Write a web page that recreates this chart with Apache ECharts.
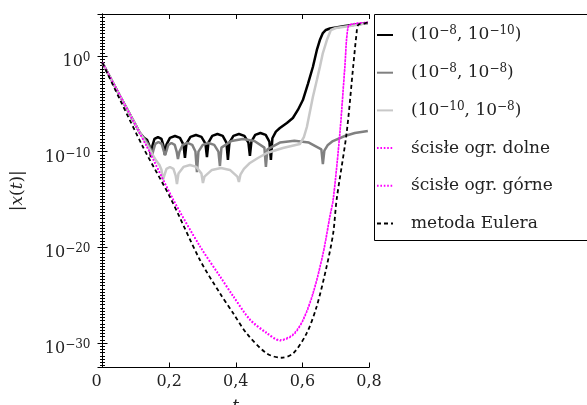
<!DOCTYPE html>
<html><head><meta charset="utf-8">
<script src="https://cdn.jsdelivr.net/npm/echarts@6/dist/echarts.min.js"></script>
<style>html,body{margin:0;padding:0;background:#fff}#c{width:587px;height:405px}</style>
</head><body><div id="c"></div>
<script>
// Data: [t, log10 |x(t)|]
const tol_8_10 = [[0,-0.73],[0.0525,-4.18],[0.1125,-8.05],[0.1245,-8.55],[0.1335,-8.75],[0.1410,-9.4],[0.1455,-10.56],
 [0.1500,-9.37],[0.1560,-8.67],[0.1665,-8.47],[0.1770,-8.67],[0.1830,-9.37],[0.1875,-10.35],
 [0.1920,-9.26],[0.2025,-8.56],[0.2175,-8.36],[0.2325,-8.56],[0.2430,-9.26],[0.2475,-10.66],
 [0.2520,-9.16],[0.2640,-8.46],[0.2805,-8.26],[0.2970,-8.46],[0.3090,-9.16],[0.3135,-10.56],
 [0.3180,-9.05],[0.3294,-8.35],[0.3450,-8.15],[0.3609,-8.35],[0.3720,-9.05],[0.3765,-10.87],
 [0.3810,-9.05],[0.3930,-8.35],[0.4095,-8.15],[0.4260,-8.35],[0.4380,-9.05],[0.4425,-10.45],
 [0.4470,-8.95],[0.4584,-8.25],[0.4740,-8.05],[0.4899,-8.25],[0.5010,-8.95],[0.5055,-10.87],
 [0.5100,-8.6],[0.5205,-7.9],[0.5325,-7.53],[0.5535,-7.00],[0.5715,-6.48],[0.5865,-5.64],[0.6015,-4.60],[0.6165,-2.93],[0.6315,-1.15],[0.6435,0.63],[0.6525,1.67],[0.6615,2.40],[0.6705,2.72],[0.6825,2.87],[0.7275,3.14],[0.7965,3.45]];
const tol_8_8 = [[0,-0.73],[0.0525,-4.18],[0.1125,-8.05],[0.1245,-8.6],[0.1365,-9.2],[0.1440,-9.7],[0.1485,-10.45],
 [0.1524,-9.89],[0.1584,-9.19],[0.1680,-8.99],[0.1779,-9.19],[0.1836,-9.89],[0.1875,-10.35],
 [0.1914,-9.99],[0.1974,-9.29],[0.2070,-9.09],[0.2169,-9.29],[0.2226,-9.99],[0.2265,-10.77],
 [0.2310,-9.99],[0.2409,-9.29],[0.2550,-9.09],[0.2694,-9.29],[0.2790,-9.99],[0.2835,-12.13],
 [0.2880,-9.99],[0.3009,-9.29],[0.3180,-9.09],[0.3354,-9.29],[0.3480,-9.99],[0.3525,-11.50],
 [0.3570,-9.58],[0.3870,-8.88],[0.4215,-8.68],[0.4560,-8.88],[0.4860,-9.58],[0.4905,-11.60],
 [0.4950,-9.75],[0.5325,-9.05],[0.5760,-8.85],[0.6195,-9.05],[0.6570,-9.75],[0.6615,-11.29],
 [0.6660,-9.9],[0.6765,-9.3],[0.6915,-8.89],[0.7275,-8.36],[0.7575,-8.05],[0.7965,-7.84]];
const tol_10_8 = [[0,-0.73],[0.0525,-4.18],[0.1125,-8.05],[0.1305,-9.1],[0.1485,-10.2],[0.1605,-10.9],[0.1710,-11.4],[0.1770,-11.9],[0.1815,-12.96],
 [0.1854,-12.5],[0.1920,-11.8],[0.2025,-11.6],[0.2130,-11.8],[0.2196,-12.5],[0.2235,-13.38],
 [0.2280,-12.29],[0.2430,-11.59],[0.2625,-11.39],[0.2820,-11.59],[0.2970,-12.29],[0.3015,-13.28],
 [0.3060,-12.61],[0.3285,-11.91],[0.3555,-11.71],[0.3825,-11.91],[0.4050,-12.61],[0.4095,-13.17],
 [0.4140,-12.4],[0.4245,-11.8],[0.4425,-11.18],[0.4665,-10.66],[0.4935,-10.14],[0.5415,-9.62],[0.5925,-9.20],[0.6045,-8.47],[0.6135,-7.42],[0.6225,-5.85],[0.6315,-4.29],[0.6435,-2.51],[0.6525,-1.15],[0.6615,0.31],[0.6735,1.67],[0.6855,2.72],[0.7005,2.93],[0.7425,3.14],[0.7965,3.45]];
const lowerBound = [[0,-0.73],[0.1326,-9.48],[0.2124,-15.05],[0.2925,-19.93],[0.3525,-23.07],[0.3924,-25.16],[0.4425,-27.60],[0.4926,-28.99],[0.5325,-29.76],[0.5724,-29.16],[0.6025,-27.60],[0.6325,-24.80],[0.6625,-20.62],[0.6826,-16.80],[0.6925,-15.05],[0.7126,-8.08],[0.7276,-1.12],[0.7375,3.06],[0.7525,3.34],[0.7966,3.50]];
const upperBound = [[0,-0.70],[0.1326,-9.42],[0.2124,-14.98],[0.2925,-19.85],[0.3525,-22.98],[0.3924,-25.06],[0.4425,-27.50],[0.4926,-28.90],[0.5325,-29.68],[0.5724,-29.08],[0.6025,-27.52],[0.6325,-24.72],[0.6625,-20.55],[0.6826,-16.74],[0.6925,-14.99],[0.7126,-8.02],[0.7276,-1.07],[0.7375,3.10],[0.7525,3.37],[0.7966,3.52]];
const euler = [[0,-0.73],[0.1215,-9.51],[0.2025,-14.74],[0.2925,-21.32],[0.3525,-24.80],[0.3924,-26.89],[0.4326,-28.99],[0.4926,-31.08],[0.5376,-31.54],[0.5724,-31.08],[0.6127,-28.99],[0.6427,-26.21],[0.6727,-22.02],[0.6925,-18.53],[0.7027,-15.05],[0.7327,-8.08],[0.7525,-1.12],[0.7627,2.37],[0.7675,3.24],[0.7876,3.42],[0.7966,3.50]];

const seriesNames = ['(1e-8, 1e-10)','(1e-8, 1e-8)','(1e-10, 1e-8)','ścisłe ogr. dolne','ścisłe ogr. górne','metoda Eulera'];
const legendLabels = ['(10{s|−8}, 10{s|−10})','(10{s|−8}, 10{s|−8})','(10{s|−10}, 10{s|−8})','ścisłe ogr. dolne','ścisłe ogr. górne','metoda Eulera'];
const xTickValues = [0, 0.2, 0.4, 0.6, 0.8];
const xRange = [0, 0.8];
const yRangeLog = [-32.56, 4.39];

const FONT = 'DejaVu Serif';
const TXT = '#222';
const chart = echarts.init(document.getElementById('c'), null, {renderer: 'canvas'});

function yLabel(v) {
  if (Math.abs(v - Math.round(v / 10) * 10) > 1e-6) return '';
  const e = Math.round(v);
  return '10{s|' + (e < 0 ? '−' + (-e) : String(e)) + '}';
}
function xLabel(v) {
  if (xTickValues.indexOf(Math.round(v * 10) / 10) < 0) return '';
  if (v === 0) return '{z|0}';
  return v.toFixed(1).replace('.', ',');
}
const supStyle = {fontFamily: FONT, fontSize: 12, color: TXT, verticalAlign: 'top', lineHeight: 12};

const commonY = {
  type: 'value', min: yRangeLog[0], max: yRangeLog[1],
  splitLine: {show: false},
  axisLine: {show: true, lineStyle: {color: '#000', width: 1}},
  axisTick: {show: true, inside: true, length: 5, lineStyle: {color: '#000'}},
  minorTick: {show: true, splitNumber: 30, length: 2.5, lineStyle: {color: '#000', width: 1}}
};
const commonX = {
  type: 'value', min: xRange[0], max: xRange[1], interval: 0.2,
  splitLine: {show: false},
  axisLine: {show: true, onZero: false, lineStyle: {color: '#000', width: 1}},
  axisTick: {show: true, inside: true, length: 5, lineStyle: {color: '#000'}}
};

const lineSeries = (name, data, color, width, type, z) => ({
  name, type: 'line', data, symbol: 'none', showSymbol: false, z,
  lineStyle: {color, width, type}, itemStyle: {color},
  emphasis: {disabled: true}, animation: false, clip: true
});

chart.setOption({
  animation: false,
  backgroundColor: '#fff',
  grid: {left: 102.5, right: 218, top: 14, bottom: 37.5, containLabel: false, outerBoundsMode: 'none'},
  xAxis: [
    Object.assign({}, commonX, {
      position: 'bottom',
      axisLabel: {show: true, formatter: xLabel, margin: 6, fontFamily: FONT, fontSize: 16, color: TXT,
        rich: {z: {fontFamily: FONT, fontSize: 16, color: TXT, padding: [0, 12, 0, 0]}}},
      name: 't', nameLocation: 'middle', nameGap: 31,
      nameTextStyle: {fontFamily: FONT, fontSize: 17, fontStyle: 'italic', color: TXT}
    }),
    Object.assign({}, commonX, {position: 'top', axisLabel: {show: false}})
  ],
  yAxis: [
    Object.assign({}, commonY, {
      position: 'left',
      axisLabel: {show: true, formatter: yLabel, margin: 12, fontFamily: FONT, fontSize: 16, color: TXT,
        lineHeight: 20, padding: [12, 0, 0, 0], rich: {s: supStyle}},
      name: '|{i|x}({i|t})|', nameLocation: 'middle', nameGap: 76,
      nameTextStyle: {fontFamily: FONT, fontSize: 17, color: TXT,
        rich: {i: {fontFamily: FONT, fontSize: 17, fontStyle: 'italic', color: TXT}}}
    }),
    Object.assign({}, commonY, {position: 'right', axisLabel: {show: false}})
  ],
  legend: {
    orient: 'vertical', left: 376, top: 25, padding: 0,
    itemWidth: 16, itemHeight: 10, itemGap: 17.7,
    selectedMode: false,
    itemStyle: {opacity: 0},
    data: seriesNames,
    formatter: function (name) { return legendLabels[seriesNames.indexOf(name)]; },
    textStyle: {fontFamily: FONT, fontSize: 17, color: TXT, height: 20, lineHeight: 20,
      padding: [0, 0, 0, 13], rich: {s: supStyle}}
  },
  graphic: [{
    type: 'rect', z: 100, silent: true,
    shape: {x: 374.5, y: 14.5, width: 260, height: 226},
    style: {fill: null, stroke: '#000', lineWidth: 1}
  }],
  series: [
    lineSeries(seriesNames[0], tol_8_10, '#000000', 2.5, 'solid', 2),
    lineSeries(seriesNames[1], tol_8_8, '#808080', 2.5, 'solid', 3),
    lineSeries(seriesNames[2], tol_10_8, '#c8c8c8', 2.5, 'solid', 4),
    Object.assign(lineSeries(seriesNames[3], lowerBound, '#ff00ff', 1.6, [1.6, 1.8], 5), {smooth: 0.3}),
    Object.assign(lineSeries(seriesNames[4], upperBound, '#ff00ff', 1.6, [1.6, 1.8], 6), {smooth: 0.3}),
    Object.assign(lineSeries(seriesNames[5], euler, '#000000', 1.8, [4, 3], 7), {smooth: 0.3})
  ]
});
</script></body></html>
